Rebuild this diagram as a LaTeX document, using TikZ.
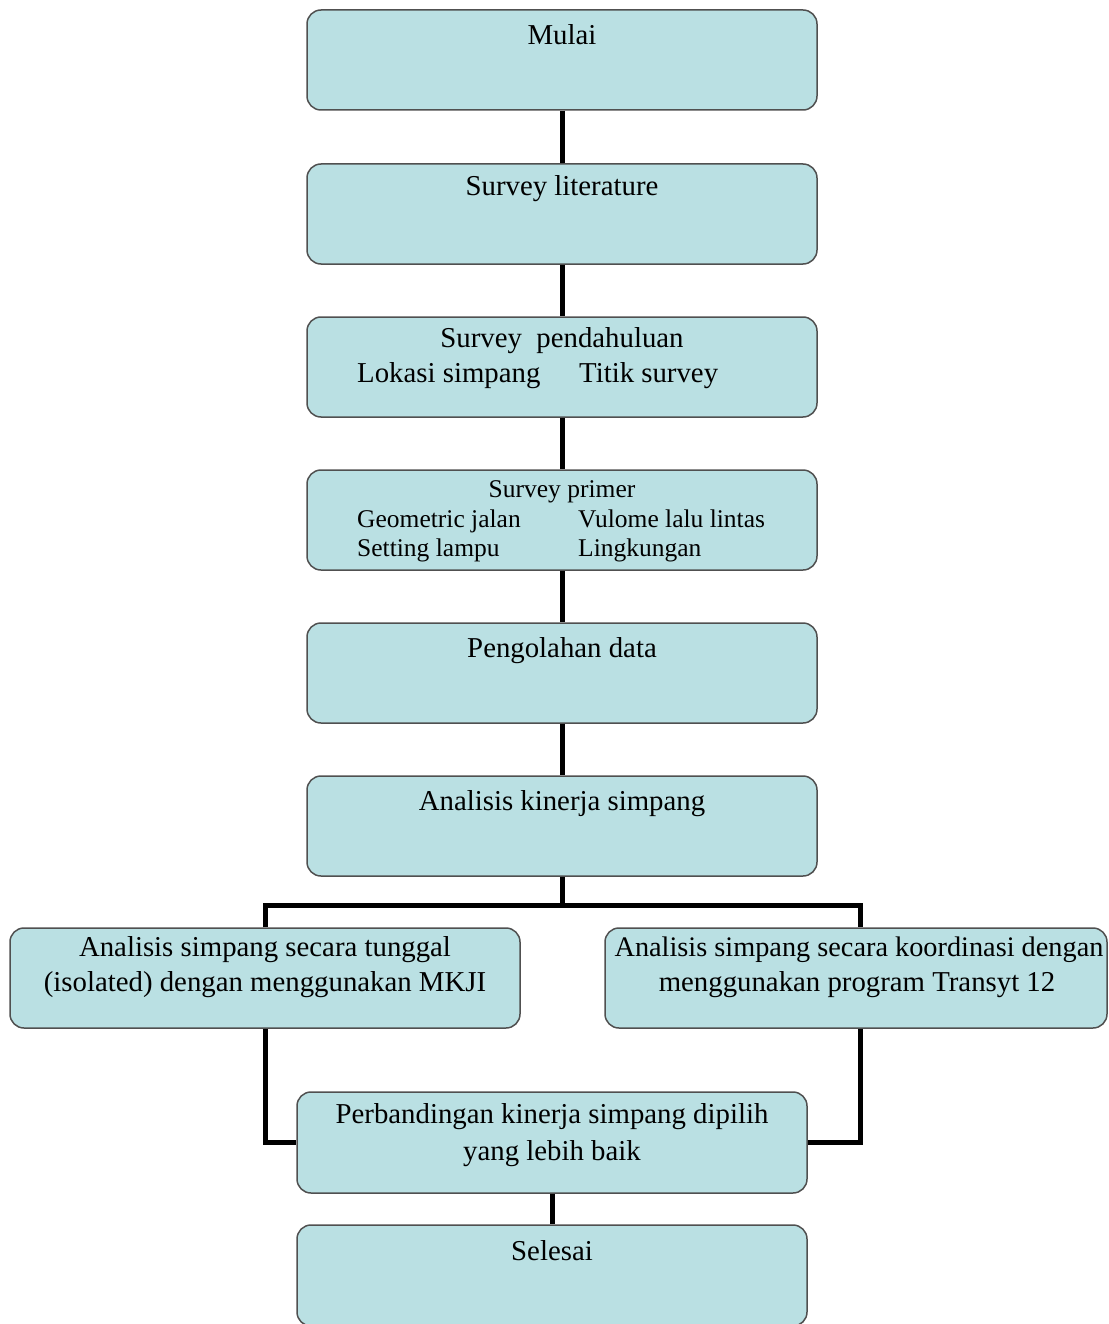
\documentclass[tikz,border=0pt]{standalone}
\usepackage{fontspec}
\setmainfont{Liberation Serif}
\definecolor{boxfill}{RGB}{186,224,227}
\definecolor{boxline}{RGB}{80,80,80}
\tikzset{
  flowbox/.style={draw=boxline, fill=boxfill, line width=1.5pt, rounded corners=14pt,
    minimum width=510pt, minimum height=100pt, inner sep=0pt},
  maintext/.style={font=\fontsize{28.8pt}{34pt}\selectfont, inner sep=0pt, anchor=base},
  smalltext/.style={font=\fontsize{25.5pt}{30pt}\selectfont, inner sep=0pt, anchor=base},
  link/.style={line width=5pt, draw=black},
}
\begin{document}
\begin{tikzpicture}[x=1pt,y=-1pt]
\useasboundingbox (0,0) rectangle (1108,1324);

% boxes
\node[flowbox] (b1) at (562,60) {};
\node[flowbox] (b2) at (562,214) {};
\node[flowbox] (b3) at (562,367) {};
\node[flowbox] (b4) at (562,520) {};
\node[flowbox] (b5) at (562,673) {};
\node[flowbox] (b6) at (562,826) {};
\node[flowbox] (bL) at (265,978) {};
\node[flowbox, minimum width=502pt] (bR) at (856,978) {};
\node[flowbox, minimum height=101pt] (b9) at (552,1142.5) {};
\node[flowbox, minimum height=101pt] (b10) at (552,1275.5) {};

% connectors
\coordinate (jL) at (265,905);
\coordinate (jR) at (860,905);
\draw[link] (b1.south) -- (b2.north);
\draw[link] (b2.south) -- (b3.north);
\draw[link] (b3.south) -- (b4.north);
\draw[link] (b4.south) -- (b5.north);
\draw[link] (b5.south) -- (b6.north);
\draw[link] (b6.south) -- (b6.south |- jL);
\draw[link] (bL.north) -- (jL) -- (jR) -- (jR |- bR.north);
\draw[link] (bL.south) |- (b9.west);
\draw[link] (jR |- bR.south) |- (b9.east);
\draw[link] (b9.south) -- (b10.north);

% texts
\node[maintext] (t1) at (562,45) {Mulai};
\node[maintext] (t2) at (562,196) {Survey literature};
\node[maintext] (t3a) at (562,347) {Survey\ \ pendahuluan};
\node[maintext, anchor=base west] (t3b) at (357,382) {Lokasi simpang};
\node[maintext, anchor=base west] (t3c) at (579,382) {Titik survey};
\node[smalltext] (t4a) at (562,497) {Survey primer};
\node[smalltext, anchor=base west] (t4b) at (357,527) {Geometric jalan};
\node[smalltext, anchor=base west] (t4c) at (578,527) {Vulome lalu lintas};
\node[smalltext, anchor=base west] (t4d) at (357,556) {Setting lampu};
\node[smalltext, anchor=base west] (t4e) at (578,556) {Lingkungan};
\node[maintext] (t5) at (562,657) {Pengolahan data};
\node[maintext] (t6) at (562,810) {Analisis kinerja simpang};
\node[maintext] (tLa) at (265,956) {Analisis simpang secara tunggal};
\node[maintext] (tLb) at (265,991) {(isolated) dengan menggunakan MKJI};
\node[maintext, font=\fontsize{28.3pt}{34pt}\selectfont] (tRa) at (859,956) {Analisis simpang secara koordinasi dengan};
\node[maintext] (tRb) at (857,991) {menggunakan program Transyt 12};
\node[maintext] (t9a) at (552,1123) {Perbandingan kinerja simpang dipilih};
\node[maintext] (t9b) at (552,1160) {yang lebih baik};
\node[maintext] (t10) at (552,1260) {Selesai};
\end{tikzpicture}
\end{document}
